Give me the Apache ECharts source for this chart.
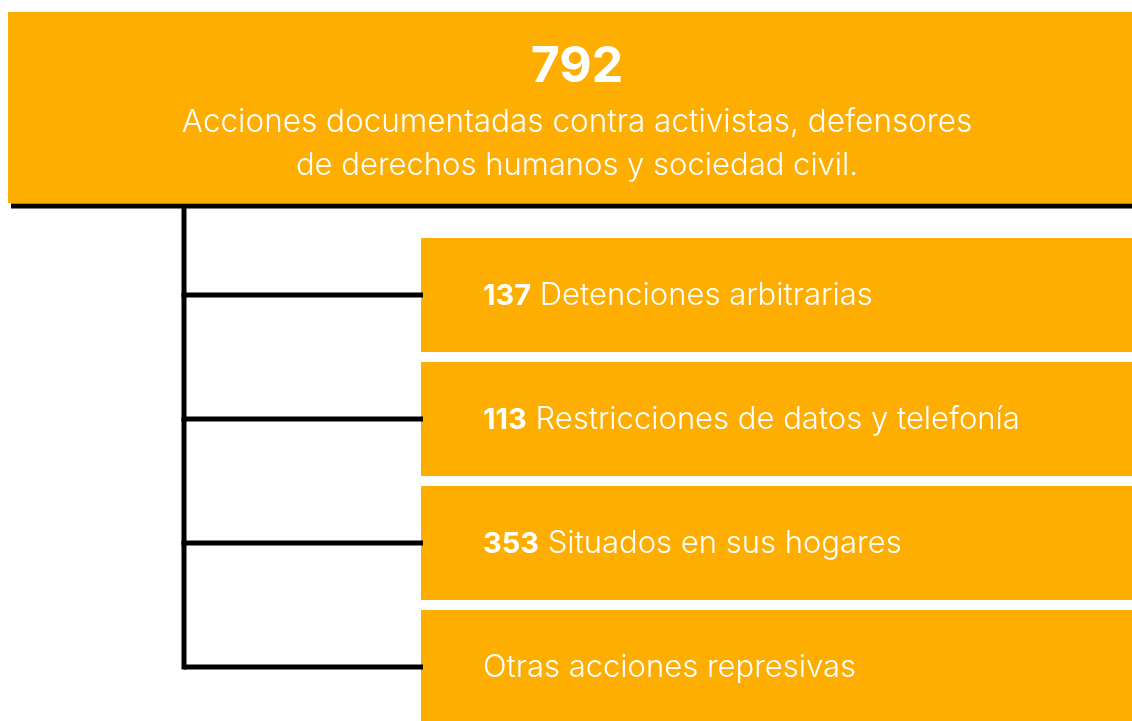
<!DOCTYPE html>
<html><head><meta charset="utf-8">
<script src="https://cdn.jsdelivr.net/npm/echarts@6/dist/echarts.min.js"></script>
<style>html,body{margin:0;padding:0;background:#fff}#c{width:1132px;height:721px}</style>
</head><body><div id="c"></div>
<script>
const totalValue = 792;
const totalLines = ['Acciones documentadas contra activistas, defensores', 'de derechos humanos y sociedad civil.'];
const categories = ['Detenciones arbitrarias', 'Restricciones de datos y telefonía', 'Situados en sus hogares', 'Otras acciones represivas'];
const counts = [137, 113, 353, null];

const ORANGE = '#FDAE00';
const FONT = 'Inter';
const headerLineY = 206;
const boxStart = 25; // share of the x axis where the boxes begin

const chart = echarts.init(document.getElementById('c'), null, {renderer: 'canvas'});
chart.setOption({
  animation: false,
  backgroundColor: '#fff',
  grid: {left: 184, right: 0, top: 233, height: 496, outerBoundsMode: 'none', containLabel: false},
  xAxis: {type: 'value', min: 0, max: 100, show: false},
  yAxis: {type: 'category', data: categories, inverse: true, show: false},
  graphic: [
    {type: 'rect', shape: {x: 8, y: 12, width: 1130, height: 191}, style: {fill: ORANGE}, z: 1},
    {type: 'line', shape: {x1: 11, y1: headerLineY, x2: 1132, y2: headerLineY}, style: {stroke: '#000', lineWidth: 5}, z: 2},
    {type: 'text', x: 577, y: 67, style: {text: String(totalValue), fill: '#fff', font: 'bold 50px ' + FONT, align: 'center', verticalAlign: 'middle'}, z: 3},
    {type: 'text', x: 577, y: 123, style: {text: totalLines[0], fill: '#fff', font: '300 31.5px ' + FONT, align: 'center', verticalAlign: 'middle'}, z: 3},
    {type: 'text', x: 577, y: 166, style: {text: totalLines[1], fill: '#fff', font: '300 31px ' + FONT, align: 'center', verticalAlign: 'middle'}, z: 3}
  ],
  series: [{
    type: 'custom',
    clip: false,
    encode: {y: 0},
    data: categories.map((c, i) => [i, counts[i]]),
    renderItem: function (params, api) {
      const i = api.value(0);
      const c = api.coord([0, i]);
      const band = api.size([0, 1])[1];
      const boxL = api.coord([boxStart, i])[0];
      const boxR = api.coord([100, i])[0];
      const h = band - 10;
      const prevY = i === 0 ? headerLineY : api.coord([0, i - 1])[1];
      const cnt = counts[i];
      const txt = (cnt != null ? '{b|' + cnt + '}{r| ' : '{r|') + categories[i] + '}';
      return {
        type: 'group',
        children: [
          {type: 'rect', shape: {x: boxL, y: c[1] - h / 2, width: boxR - boxL, height: h}, style: {fill: ORANGE}},
          {type: 'line', shape: {x1: c[0], y1: prevY - 2, x2: c[0], y2: c[1] + 2.5}, style: {stroke: '#000', lineWidth: 5}},
          {type: 'line', shape: {x1: c[0], y1: c[1], x2: boxL + 2, y2: c[1]}, style: {stroke: '#000', lineWidth: 5}},
          {type: 'text', x: boxL + 62, y: c[1] + 1, style: {
            text: txt, verticalAlign: 'middle', align: 'left',
            rich: {
              b: {fill: '#fff', font: 'bold 29px ' + FONT},
              r: {fill: '#fff', font: '300 31px ' + FONT}
            }
          }}
        ]
      };
    }
  }]
});
</script></body></html>
